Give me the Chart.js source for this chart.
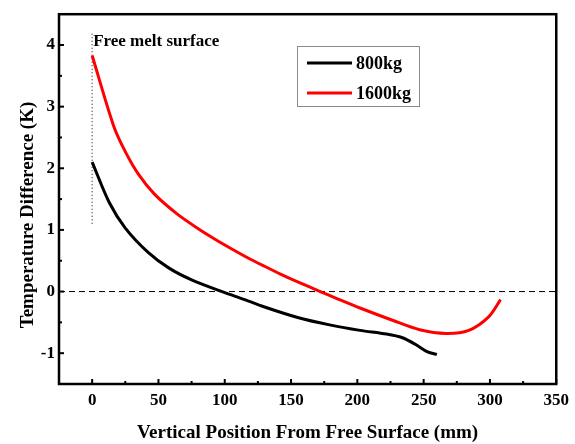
<!DOCTYPE html>
<html>
<head>
<meta charset="utf-8">
<script src="https://cdn.jsdelivr.net/npm/chart.js@4.4.1/dist/chart.umd.min.js"></script>
<style>
  html, body { margin: 0; padding: 0; background: #fff; }
  #wrap { width: 575px; height: 444px; }
</style>
</head>
<body>
<div id="wrap"><canvas id="chart" width="575" height="444"></canvas></div>
<script>
const font = 'Liberation Serif'

// series (x in mm, y in K)
const x800 = [0, 13, 25, 42, 58, 75, 99, 115, 130, 155, 180, 202, 222, 234, 244, 253, 260]
const y800 = [2.10, 1.44, 1.03, 0.64, 0.38, 0.19, -0.01, -0.13, -0.25, -0.42, -0.545, -0.63, -0.69, -0.75, -0.86, -0.98, -1.02]
const x1600 = [0, 16, 25, 35, 47, 64, 80, 93, 105, 118, 130, 142, 155, 172, 185, 202, 227, 247, 267, 284, 299, 308]
const y1600 = [3.83, 2.70, 2.27, 1.90, 1.58, 1.26, 1.02, 0.845, 0.695, 0.54, 0.41, 0.284, 0.157, 0.00, -0.117, -0.267, -0.47, -0.62, -0.68, -0.63, -0.41, -0.13]

const xTicks = [0, 50, 100, 150, 200, 250, 300, 350]
const xMinor = [25, 75, 125, 175, 225, 275, 325]
const yTicks = [-1, 0, 1, 2, 3, 4]
const yMinor = [-0.5, 0.5, 1.5, 2.5, 3.5]

const surfaceX = 0
const surfaceLine = [1.1, 4.2]
const annotation = 'Free melt surface'
const xTitle = 'Vertical Position From Free Surface (mm)'
const yTitle = 'Temperature Difference (K)'

const pairs = (xs, ys) => xs.map((x, i) => ({ x, y: ys[i] }))

const decorations = {
  id: 'decorations',
  afterDraw (chart) {
    const { ctx, chartArea: area, scales: { x, y } } = chart
    ctx.save()
    // frame
    ctx.strokeStyle = '#000'
    ctx.lineWidth = 2.5
    ctx.strokeRect(area.left, area.top, area.right - area.left, area.bottom - area.top)
    // inward ticks
    ctx.lineWidth = 2
    const tick = (x1, y1, x2, y2) => { ctx.beginPath(); ctx.moveTo(x1, y1); ctx.lineTo(x2, y2); ctx.stroke() }
    xTicks.forEach(v => { const p = x.getPixelForValue(v); tick(p, area.bottom, p, area.bottom - 5) })
    xMinor.forEach(v => { const p = x.getPixelForValue(v); tick(p, area.bottom, p, area.bottom - 3) })
    yTicks.forEach(v => { const p = y.getPixelForValue(v); tick(area.left, p, area.left + 5, p) })
    yMinor.forEach(v => { const p = y.getPixelForValue(v); tick(area.left, p, area.left + 3, p) })
    // annotation
    ctx.fillStyle = '#000'
    ctx.font = `bold 17px "${font}"`
    ctx.textAlign = 'left'
    ctx.textBaseline = 'alphabetic'
    ctx.fillText(annotation, x.getPixelForValue(surfaceX) + 1, y.getPixelForValue(surfaceLine[1]) + 13)
    // y title
    ctx.save()
    ctx.translate(33, 215)
    ctx.rotate(-Math.PI / 2)
    ctx.textAlign = 'center'
    ctx.font = `bold 19px "${font}"`
    ctx.fillText(yTitle, 0, 0)
    ctx.restore()
    // legend
    const box = { left: 297, top: 46, width: 122, height: 60 }
    ctx.strokeStyle = '#8a8a8a'
    ctx.lineWidth = 1
    ctx.strokeRect(box.left + 0.5, box.top + 0.5, box.width, box.height)
    ctx.font = `bold 18px "${font}"`
    ctx.textBaseline = 'middle'
    chart.data.datasets.slice(0, 2).forEach((ds, i) => {
      const ly = box.top + 17 + i * 30
      ctx.strokeStyle = ds.borderColor
      ctx.lineWidth = 3
      tick(box.left + 10, ly, box.left + 55, ly)
      ctx.fillStyle = '#000'
      ctx.fillText(ds.label, box.left + 59, ly + 1)
    })
    ctx.restore()
  }
}

document.addEventListener('DOMContentLoaded', () => {
  const canvas = document.getElementById('chart')
  new Chart(canvas, {
    type: 'line',
    data: {
      datasets: [
        { label: '800kg', data: pairs(x800, y800), borderColor: '#000', borderWidth: 3, pointRadius: 0, tension: 0.3 },
        { label: '1600kg', data: pairs(x1600, y1600), borderColor: '#ff0000', borderWidth: 3, pointRadius: 0, tension: 0.3 },
        { label: 'zero', data: [{ x: -25, y: 0 }, { x: 350, y: 0 }], borderColor: '#000', borderWidth: 1, borderDash: [6, 4], pointRadius: 0 },
        { label: 'surface', data: surfaceLine.map(y => ({ x: surfaceX, y })), borderColor: '#444', borderWidth: 1.3, borderDash: [1, 2.5], pointRadius: 0 }
      ]
    },
    options: {
      responsive: false,
      animation: false,
      events: [],
      layout: { padding: { left: 0, right: 12, top: 13, bottom: 0 } },
      plugins: { legend: { display: false }, tooltip: { enabled: false } },
      scales: {
        x: {
          type: 'linear',
          min: -25,
          max: 350,
          afterBuildTicks: scale => { scale.ticks = xTicks.map(value => ({ value })) },
          afterFit: scale => { scale.height = 60 },
          grid: { display: false, drawTicks: false },
          border: { display: false },
          ticks: { color: '#000', padding: 6, font: { family: font, size: 17, weight: 'bold' } },
          title: { display: true, text: xTitle, color: '#000', padding: { top: 0, bottom: 0 }, font: { family: font, size: 19, weight: 'bold' } }
        },
        y: {
          type: 'linear',
          min: -1.5,
          max: 4.5,
          afterBuildTicks: scale => { scale.ticks = yTicks.map(value => ({ value })) },
          afterFit: scale => { scale.width = 59 },
          grid: { display: false, drawTicks: false },
          border: { display: false },
          ticks: { color: '#000', padding: 4, font: { family: font, size: 17, weight: 'bold' } }
        }
      }
    },
    plugins: [decorations]
  })
})
</script>
</body>
</html>
